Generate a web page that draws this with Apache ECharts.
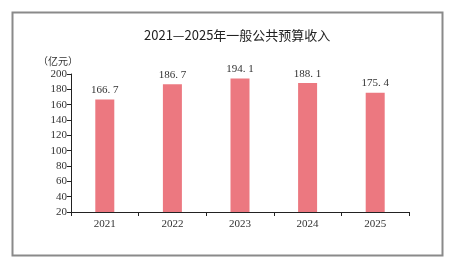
<!DOCTYPE html>
<html><head><meta charset="utf-8">
<script src="https://cdn.jsdelivr.net/npm/echarts@6/dist/echarts.min.js"></script>
<style>html,body{margin:0;padding:0;background:#fff}#c{width:453px;height:268px}</style>
</head><body><div id="c"></div>
<script>
const categories = ['2021','2022','2023','2024','2025'];
const values = [166.7, 186.7, 194.1, 188.1, 175.4];
const yTicks = [20,40,60,80,100,120,140,160,180,200];
const titleText = '2021—2025年一般公共预算收入';
const unitText = '（亿元）';

const serif = '"Liberation Serif","DejaVu Serif",serif';
const chart = echarts.init(document.getElementById('c'), null, {renderer:'canvas'});
chart.setOption({
  backgroundColor:'#fff',
  animation:false,
  title:{text:titleText,left:139,top:24,textStyle:{fontFamily:'"Noto Sans CJK SC","Noto Sans",sans-serif',fontSize:13,fontWeight:'normal',color:'#222'}},
  graphic:[
    {type:'rect',shape:{x:12.5,y:12.5,width:430,height:243},style:{fill:'none',stroke:'#8a8a8a',lineWidth:2},silent:true},
    {type:'text',left:38,top:56,style:{text:unitText,font:'10px "Noto Sans CJK SC",serif',fill:'#333'}}
  ],
  grid:{left:71,right:44,top:74,bottom:56},
  xAxis:{type:'category',data:categories,
    axisLine:{lineStyle:{color:'#222',width:1}},
    axisTick:{show:true,alignWithLabel:false,length:4,lineStyle:{color:'#222'}},
    axisLabel:{fontFamily:serif,fontSize:11,color:'#333',margin:7}},
  yAxis:{type:'value',min:yTicks[0],max:yTicks[yTicks.length-1],interval:20,
    axisLine:{show:true,lineStyle:{color:'#222',width:1}},
    axisTick:{show:true,inside:false,length:4,lineStyle:{color:'#222'}},
    splitLine:{show:false},
    axisLabel:{fontFamily:serif,fontSize:11,color:'#333',margin:4}},
  series:[{type:'bar',data:values,barWidth:19,
    itemStyle:{color:'#EC7880'},
    label:{show:true,position:'top',distance:4,fontFamily:serif,fontSize:11,color:'#333',
      formatter:p=>String(p.value).replace('.', '. ')}}]
});
</script></body></html>
